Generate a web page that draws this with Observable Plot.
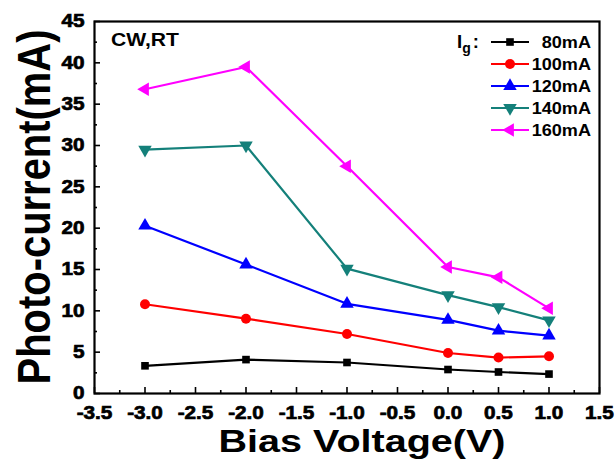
<!DOCTYPE html>
<html><head><meta charset="utf-8">
<script src="https://cdn.jsdelivr.net/npm/d3@7"></script>
<script src="https://cdn.jsdelivr.net/npm/@observablehq/plot@0.6"></script>
<style>body{margin:0;background:#fff} #chart{width:616px;height:460px} #chart svg text{font-weight:bold;fill:#000} #chart svg text.tl{stroke:#000;stroke-width:0.7px}</style>
</head><body><div id="chart"></div>
<script>
// ---- data ----
const bias = [-3, -2, -1, 0, 0.5, 1];
const i80  = [3.35, 4.1, 3.75, 2.9, 2.6, 2.35];
const i100 = [10.8, 9.05, 7.2, 4.9, 4.35, 4.5];
const i120 = [20.3, 15.6, 10.85, 8.9, 7.6, 7.0];
const i140 = [29.5, 30.0, 15.1, 11.9, 10.45, 8.85];
const i160 = [36.8, 39.5, 27.5, 15.3, 14.05, 10.3];
const seriesNames = ["80mA", "100mA", "120mA", "140mA", "160mA"];
const seriesValues = [i80, i100, i120, i140, i160];
const seriesColors = ["#000000", "#ff0000", "#0000ff", "#14807a", "#ff00ff"];
const seriesSymbols = ["square", "circle", "triangle", "triangle", "triangle"];
const seriesRotate = [0, 0, 0, 180, -90];
const xMajor = [-3.5, -3, -2.5, -2, -1.5, -1, -0.5, 0, 0.5, 1, 1.5];
const xMinor = [-3.25, -2.75, -2.25, -1.75, -1.25, -0.75, -0.25, 0.25, 0.75, 1.25];
const yMajor = [0, 5, 10, 15, 20, 25, 30, 35, 40, 45];
const yMinor = [2.5, 7.5, 12.5, 17.5, 22.5, 27.5, 32.5, 37.5, 42.5];
const xTitle = "Bias Voltage(V)";
const yTitle = "Photo-current(mA)";
const note = "CW,RT";
const legendTitle = "I";
const legendSub = "g";

const rows = [];
seriesNames.forEach((s, k) => bias.forEach((b, i) => rows.push({series: s, k, x: b, y: seriesValues[k][i]})));

const W = 616, H = 460, mL = 94, mR = 17, mT = 21, mB = 67;
const pw = W - mL - mR, ph = H - mT - mB;
const font = "'Liberation Sans', Arial, sans-serif";
const marks = [
  Plot.ruleX(xMajor, {x: d => d, insetTop: ph - 6, stroke: "#000", strokeWidth: 1.6}),
  Plot.ruleX(xMinor, {x: d => d, insetTop: ph - 3, stroke: "#000", strokeWidth: 1.6}),
  Plot.ruleY(yMajor, {y: d => d, insetRight: pw - 6, stroke: "#000", strokeWidth: 1.6}),
  Plot.ruleY(yMinor, {y: d => d, insetRight: pw - 3, stroke: "#000", strokeWidth: 1.6}),
  Plot.axisX(xMajor, {tickSize: 0, tickPadding: 13, tickFormat: d => d.toFixed(1), label: null, fontSize: 18, fontWeight: "bold", fill: "#000"}),
  Plot.axisY(yMajor, {tickSize: 0, tickPadding: 10, tickFormat: d => String(d), label: null, fontSize: 18, fontWeight: "bold", fill: "#000"})
];
seriesNames.forEach((s, k) => {
  const d = rows.filter(r => r.k === k);
  marks.push(Plot.line(d, {x: "x", y: "y", stroke: seriesColors[k], strokeWidth: 2.2}));
  marks.push(Plot.dot(d, {x: "x", y: "y", fill: seriesColors[k], stroke: "none",
    symbol: seriesSymbols[k], r: seriesSymbols[k] === "circle" ? 5 : (seriesSymbols[k] === "square" ? 4.3 : 5),
    rotate: seriesRotate[k]}));
});
marks.push(Plot.frame({stroke: "#000", strokeWidth: 2.2}));

const plot = Plot.plot({
  width: W, height: H,
  marginLeft: mL, marginRight: mR, marginTop: mT, marginBottom: mB,
  x: {domain: [-3.5, 1.5], axis: null},
  y: {domain: [0, 45], axis: null},
  style: {fontFamily: font, background: "#fff", color: "#000", overflow: "visible"},
  marks
});
document.getElementById("chart").appendChild(plot);

const svg = d3.select(plot);
function stretch(node, k, len) {
  const L = node.getComputedTextLength();
  if (L > 0) {
    node.setAttribute("textLength", len != null ? len : L * k);
    node.setAttribute("lengthAdjust", "spacingAndGlyphs");
  }
}
svg.selectAll("text").each(function() { if (this.textContent.trim()) { this.classList.add("tl"); stretch(this, 1.15); } });

const g = svg.append("g").attr("font-family", font).attr("font-weight", "bold").attr("fill", "#000")
  .attr("text-anchor", "start");
// note
g.append("text").attr("x", 111).attr("y", 46).attr("font-size", 17.5).text(note).each(function() { stretch(this, 1, 68); });
// titles
g.append("text").attr("x", 362).attr("y", 452).attr("text-anchor", "middle").attr("font-size", 32).text(xTitle)
  .each(function() { stretch(this, 1, 287); });
g.append("text").attr("transform", "translate(50,207) scale(1.17,1) rotate(-90)").attr("text-anchor", "middle").attr("font-size", 39).text(yTitle)
  .each(function() { stretch(this, 1, 355); });
// legend
const lt = g.append("text").attr("x", 457).attr("y", 48).attr("font-size", 18.5);
lt.append("tspan").text(legendTitle);
lt.append("tspan").attr("dy", 5).attr("font-size", 14).text(legendSub);
lt.append("tspan").attr("dy", -5).attr("dx", 2).text(":");
const symMap = {square: d3.symbolSquare, circle: d3.symbolCircle, triangle: d3.symbolTriangle};
seriesNames.forEach((s, k) => {
  const cy = 42 + k * 22;
  g.append("line").attr("x1", 491).attr("x2", 529).attr("y1", cy).attr("y2", cy)
    .attr("stroke", seriesColors[k]).attr("stroke-width", 2.2);
  const r = seriesSymbols[k] === "circle" ? 5 : (seriesSymbols[k] === "square" ? 4.3 : 5);
  g.append("path").attr("d", d3.symbol(symMap[seriesSymbols[k]], Math.PI * r * r)())
    .attr("transform", `translate(510,${cy}) rotate(${seriesRotate[k]})`).attr("fill", seriesColors[k]);
  g.append("text").attr("x", 591).attr("y", cy + 6).attr("text-anchor", "end").attr("font-size", 16).text(s)
    .each(function() { stretch(this, 1.13); });
});
</script></body></html>
